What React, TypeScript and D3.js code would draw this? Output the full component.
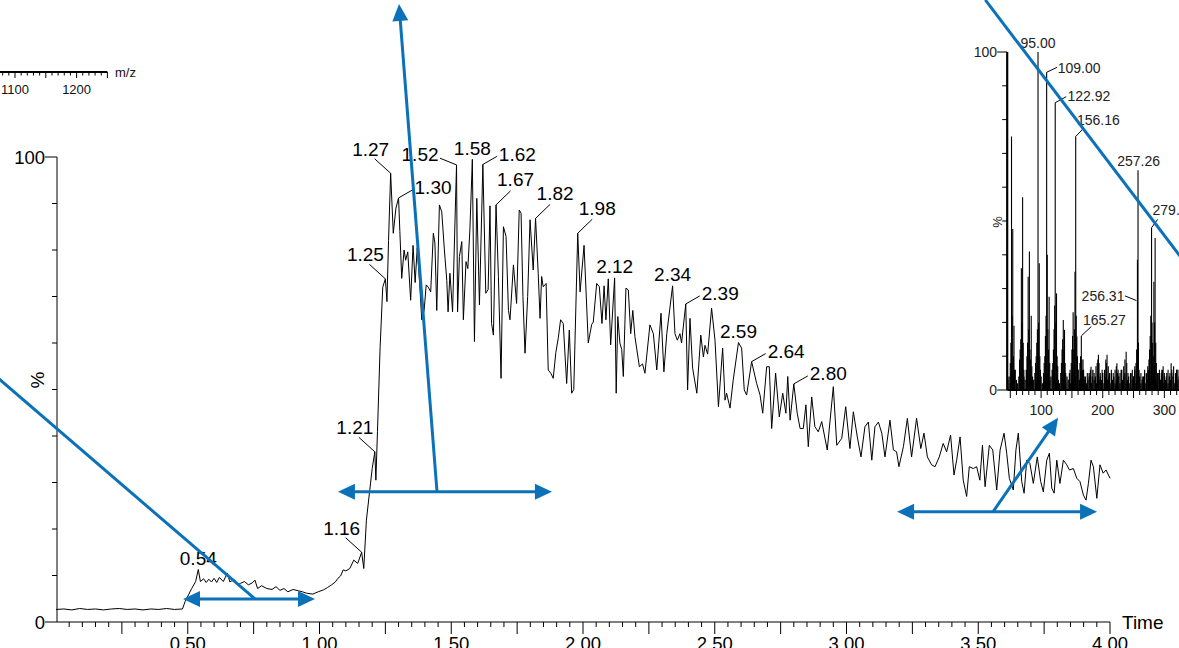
import React from "react";
import * as d3 from "d3";

const W = 1179;
const H = 648;

// ---- chromatogram (time in min, intensity %) ----
const tracePoints: [number, number][] = [
  [0.0, 2.7], [0.03, 2.8], [0.06, 2.6], [0.09, 2.9], [0.12, 2.7], [0.15, 2.8], [0.18, 2.6], [0.21, 2.8],
  [0.24, 2.9], [0.27, 2.7], [0.3, 2.8], [0.33, 2.6], [0.36, 2.8], [0.39, 2.7], [0.42, 2.9], [0.45, 2.7],
  [0.48, 2.8], [0.49, 4.4], [0.515, 7.2], [0.53, 8.7], [0.54, 11.3], [0.548, 8.7], [0.56, 9.3], [0.57, 8.5],
  [0.58, 9.2], [0.59, 8.6], [0.6, 9.4], [0.61, 8.5], [0.62, 9.6], [0.635, 8.7], [0.65, 10.5], [0.66, 8.6],
  [0.675, 9.2], [0.69, 8.0], [0.7, 8.3], [0.715, 8.7], [0.73, 8.0], [0.745, 8.4], [0.755, 9.0], [0.765, 7.2],
  [0.78, 7.8], [0.8, 7.2], [0.82, 7.0], [0.835, 7.6], [0.85, 6.8], [0.865, 7.2], [0.88, 6.5], [0.9, 7.0],
  [0.92, 6.7], [0.935, 6.5], [0.95, 6.2], [0.975, 6.0], [0.995, 6.5], [1.015, 6.9], [1.03, 7.4], [1.046, 8.0],
  [1.06, 8.6], [1.07, 9.4], [1.08, 9.9], [1.09, 11.2], [1.1, 11.0], [1.115, 11.5], [1.13, 13.3], [1.145, 12.6],
  [1.16, 15.0], [1.168, 11.5], [1.178, 21.9], [1.19, 28], [1.2, 33], [1.21, 36.6], [1.214, 30.5], [1.22, 41],
  [1.23, 59], [1.24, 72], [1.25, 73.8], [1.256, 68.9], [1.262, 82], [1.27, 96.5], [1.28, 83.6], [1.29, 89],
  [1.3, 91.2], [1.305, 84], [1.312, 73.9], [1.321, 80], [1.327, 77.8], [1.335, 79.6], [1.346, 69.2], [1.355, 81],
  [1.363, 73], [1.371, 80.5], [1.38, 72.8], [1.388, 65], [1.397, 67], [1.405, 72.5], [1.413, 72], [1.422, 71],
  [1.432, 83.6], [1.438, 81.5], [1.445, 67], [1.455, 89.7], [1.464, 88.2], [1.474, 80], [1.483, 73.5], [1.488, 66.7],
  [1.495, 75], [1.505, 66.7], [1.52, 98.3], [1.524, 66.7], [1.531, 78.6], [1.54, 81.8], [1.546, 65], [1.556, 77.5],
  [1.563, 76], [1.571, 84.7], [1.58, 99.5], [1.588, 60.3], [1.597, 91.1], [1.607, 68.2], [1.62, 98.4], [1.631, 70.7],
  [1.64, 71.5], [1.647, 89.5], [1.653, 64.2], [1.66, 61.7], [1.67, 89.7], [1.679, 74.3], [1.689, 52.4], [1.698, 85],
  [1.708, 82.9], [1.717, 67], [1.723, 65], [1.736, 76.8], [1.748, 68.5], [1.758, 88.6], [1.765, 87.9], [1.772, 70],
  [1.78, 57.8], [1.79, 70], [1.799, 86.5], [1.811, 75.7], [1.82, 86.8], [1.83, 75], [1.837, 65.3], [1.843, 74.3],
  [1.849, 72.1], [1.86, 72.8], [1.868, 54.2], [1.878, 53.5], [1.887, 52.4], [1.897, 58], [1.906, 61], [1.915, 65],
  [1.925, 64.2], [1.938, 51.3], [1.948, 62.8], [1.957, 49.2], [1.965, 50], [1.98, 83.6], [1.989, 71], [2.004, 81],
  [2.02, 60], [2.033, 64], [2.039, 64.5], [2.052, 72.8], [2.062, 72.1], [2.072, 64.2], [2.08, 72.3], [2.087, 65],
  [2.096, 73.8], [2.105, 59.6], [2.12, 74], [2.126, 49.2], [2.132, 65.7], [2.14, 60], [2.147, 58.6], [2.153, 52.8],
  [2.163, 71.8], [2.172, 71.4], [2.181, 62], [2.189, 67], [2.197, 61.4], [2.214, 54.9], [2.226, 55.5], [2.235, 53.5],
  [2.254, 63.9], [2.267, 62], [2.28, 54.2], [2.296, 66.4], [2.307, 53.8], [2.318, 62], [2.34, 72.3], [2.349, 62],
  [2.358, 60.6], [2.368, 62], [2.374, 60], [2.39, 68.4], [2.397, 49.9], [2.406, 65.3], [2.416, 54.6], [2.432, 49.2],
  [2.447, 61.7], [2.457, 57], [2.463, 59.5], [2.473, 57.6], [2.488, 67.5], [2.501, 60.6], [2.514, 46.3], [2.53, 58.9],
  [2.539, 47.7], [2.545, 49.2], [2.558, 46], [2.57, 52], [2.59, 60.1], [2.602, 58.9], [2.612, 49.9], [2.621, 48.8],
  [2.64, 56], [2.659, 51.3], [2.672, 48.8], [2.682, 44.9], [2.697, 54.9], [2.707, 54.9], [2.716, 41.6], [2.731, 53.5],
  [2.745, 44.1], [2.758, 49.2], [2.77, 44.9], [2.777, 52.8], [2.786, 43.4], [2.8, 51.2], [2.813, 44.9], [2.824, 41.6],
  [2.836, 41.6], [2.846, 46.7], [2.855, 37.7], [2.868, 48.4], [2.88, 42], [2.893, 40.9], [2.906, 43.1], [2.927, 37],
  [2.95, 50.6], [2.963, 38], [2.982, 39.5], [2.997, 46.3], [3.013, 37.3], [3.026, 45.2], [3.041, 39.8], [3.055, 35.5],
  [3.07, 42], [3.083, 43], [3.096, 34.8], [3.108, 42], [3.121, 43], [3.134, 40.6], [3.146, 35.5], [3.165, 43.4],
  [3.178, 37], [3.19, 36.6], [3.199, 33.4], [3.216, 37.7], [3.231, 43.8], [3.247, 35.5], [3.266, 43.8], [3.282, 37.3],
  [3.294, 40.6], [3.307, 35.5], [3.323, 33.8], [3.336, 33.4], [3.352, 35.5], [3.367, 38.4], [3.38, 36.6], [3.395, 40.2],
  [3.408, 31.6], [3.418, 34.8], [3.431, 39.8], [3.443, 30.5], [3.456, 27], [3.466, 33.4], [3.481, 33], [3.494, 33.4],
  [3.506, 30.5], [3.516, 38], [3.526, 29.1], [3.542, 38], [3.555, 37], [3.57, 28.4], [3.583, 37], [3.598, 40.6],
  [3.608, 36.3], [3.618, 30.9], [3.633, 28.4], [3.643, 37], [3.652, 40.6], [3.665, 30.2], [3.674, 27.7], [3.684, 34.8],
  [3.696, 34.1], [3.709, 29.8], [3.724, 35.5], [3.737, 30.2], [3.747, 28], [3.76, 34.8], [3.77, 36.3], [3.779, 28.8],
  [3.788, 27.7], [3.798, 34.8], [3.81, 29.8], [3.823, 34.8], [3.836, 33.8], [3.846, 32.7], [3.861, 33], [3.874, 30.9],
  [3.886, 30.2], [3.899, 27.3], [3.909, 26.2], [3.918, 29.8], [3.928, 34.8], [3.937, 33.4], [3.95, 26.6], [3.962, 33.8],
  [3.974, 32], [3.985, 32.7], [4.0, 30.9],
];

const peakTimes = [0.54, 1.16, 1.21, 1.25, 1.27, 1.3, 1.52, 1.58, 1.62, 1.67, 1.82, 1.98, 2.12, 2.34, 2.39, 2.59, 2.64, 2.8];
const peakLabels = ["0.54", "1.16", "1.21", "1.25", "1.27", "1.30", "1.52", "1.58", "1.62", "1.67", "1.82", "1.98", "2.12", "2.34", "2.39", "2.59", "2.64", "2.80"];

const xTickValues = [0.5, 1.0, 1.5, 2.0, 2.5, 3.0, 3.5, 4.0];
const xTickLabels = ["0.50", "1.00", "1.50", "2.00", "2.50", "3.00", "3.50", "4.00"];
const yTickValues = [0, 100];
const yTickLabels = ["0", "100"];

// ---- inset mass spectrum (m/z, %) ----
const insetPeaks: [number, number][] = [
  [50, 8], [51, 14], [52, 75], [53, 22], [54, 47.6], [55, 10], [56, 19], [57, 6],
  [65, 9], [66, 12], [67, 15], [68, 36], [69, 20], [70, 57], [71, 14], [72, 6],
  [77, 10], [78, 14], [79, 33.5], [80, 18], [81, 41], [82, 12], [83, 9], [84, 22], [85, 7],
  [91, 8], [92, 10], [93, 14], [94, 18], [95, 100], [96, 20], [97, 37.5], [98, 10], [99, 6],
  [105, 8], [106, 10], [107, 16], [108, 22], [109, 94], [110, 40], [111, 18], [112, 12], [113, 27.6], [114, 8],
  [119, 8], [120, 12], [121, 18], [122, 25], [122.92, 85], [124, 20], [125, 28.6], [126, 10], [127, 7],
  [133, 8], [134, 12], [135, 15], [136, 20.7], [137, 12], [138, 17.8], [139, 8], [140, 5],
  [147, 6], [149, 8], [150, 12], [151, 16], [152, 23], [153, 12], [154, 18], [155, 35], [156.16, 75], [157, 22], [158, 15.8], [159, 10], [160, 6],
  [163, 8], [164, 10], [165.27, 16], [166, 9], [167, 6], [168, 9], [169, 6], [170, 4],
  [175, 5], [178, 4], [180, 6], [181, 6.9], [183, 4], [186, 5], [189, 7], [191, 8], [192, 9], [193, 10.4], [194, 8], [196, 5], [199, 6],
  [203, 6], [205, 9], [206, 8], [207, 10.4], [209, 7], [211, 5], [214, 6], [217, 5], [220, 6], [222, 7], [223, 7.9], [225, 6], [228, 5],
  [231, 6], [234, 7], [236, 9], [238, 11.3], [239, 8], [241, 5], [245, 5], [248, 6], [250, 4], [252, 7], [254, 8], [255, 12],
  [256.31, 38.5], [257.26, 65], [258, 14], [259, 6],
  [262, 5], [265, 4], [268, 6], [271, 5], [273, 7], [275, 9], [276, 12], [277, 16], [278, 22], [279.22, 48], [280, 20],
  [281, 14], [282, 10], [283, 32], [284, 20], [285, 45], [286, 14], [287, 8], [289, 5],
  [292, 6], [295, 5], [297, 5.9], [298, 7], [300, 5], [303, 4], [306, 6], [309, 5], [311, 7.9], [312, 6], [315, 7],
  [318, 5], [320, 6], [322, 6], [325, 4], [328, 5],
];
// baseline clutter, m/z 46..330 every 2
const insetNoise = [
  3, 4, 2, 5, 3, 4, 6, 3, 2, 4, 3, 5, 2, 4, 3, 6, 4, 2, 5, 3, 4, 3, 5, 2, 4, 6, 3, 4, 2, 5,
  3, 4, 5, 2, 3, 4, 6, 3, 5, 2, 4, 3, 2, 5, 4, 3, 6, 2, 4, 3, 5, 2, 4, 3, 5, 4, 2, 6, 3, 4,
  2, 5, 3, 4, 2, 3, 5, 4, 2, 6, 3, 4, 2, 5, 3, 4, 3, 5, 2, 4, 6, 3, 4, 2, 5, 3, 4, 2, 3, 5,
  4, 2, 6, 3, 4, 5, 2, 3, 4, 2, 5, 3, 4, 6, 2, 3, 5, 4, 2, 3, 4, 5, 2, 3, 6, 4, 2, 5, 3, 4,
  3, 2, 5, 4, 3, 6, 2, 4, 3, 5, 2, 4, 3, 5, 4, 2, 3, 6, 3, 4, 2, 5, 4,
];
const insetLabelMz = [95, 109, 122.92, 156.16, 257.26, 279.22, 256.31, 165.27];
const insetLabels = ["95.00", "109.00", "122.92", "156.16", "257.26", "279.22", "256.31", "165.27"];
const insetXTickValues = [100, 200, 300];
const insetXTickLabels = ["100", "200", "300"];

// partial m/z axis at top left
const mzFragTickValues = [1100, 1200];
const mzFragTickLabels = ["1100", "1200"];

// ---- annotation geometry in data units ----
const doubleArrows = [
  { t0: 0.482, t1: 0.983, v: 4.95 },
  { t0: 1.07, t1: 1.882, v: 28 },
  { t0: 3.192, t1: 3.951, v: 23.7 },
];
const singleArrows = [
  { from: [1.446, 28], to: [1.3017, 132.9] },
  { from: [3.556, 23.7], to: [3.803, 43.9] },
];
const plainLine = { from: [-0.25, 53.9], to: [0.755, 4.95] };
const insetLine = { from: [9.5, 115.4], to: [340, 36.1] };

// label placement (layout only)
const mainPlacement: Record<string, string> = {
  "0.54": "above", "1.16": "upLeft", "1.21": "upLeft", "1.25": "upLeft", "1.27": "upLeft",
  "1.30": "right", "1.52": "left", "1.58": "above", "1.62": "right", "1.67": "upRight",
  "1.82": "upRight", "1.98": "upRight", "2.12": "above", "2.34": "above", "2.39": "right",
  "2.59": "above", "2.64": "right", "2.80": "right",
};
const placementStyles: Record<string, { anchor: string; dx: number; dy: number; lead?: [number, number] }> = {
  above: { anchor: "middle", dx: 0, dy: -4.5 },
  upLeft: { anchor: "middle", dx: -20, dy: -17.5, lead: [-16, -14.5] },
  upRight: { anchor: "middle", dx: 19.5, dy: -18.5, lead: [14.5, -14] },
  right: { anchor: "start", dx: 16, dy: -3.5, lead: [14, -8] },
  left: { anchor: "end", dx: -18, dy: -4, lead: [-16.5, -6.7] },
};
const insetPlacement: { anchor: string; dx: number; dy: number; lead?: [number, number, number, number] }[] = [
  { anchor: "middle", dx: 0, dy: -4 },
  { anchor: "start", dx: 11, dy: 0.5, lead: [0, 0, 10.5, -5] },
  { anchor: "start", dx: 12.3, dy: -1.7, lead: [0, 0, 11, -6] },
  { anchor: "start", dx: 1.3, dy: -11.7, lead: [0, 0, 8, -8.4] },
  { anchor: "middle", dx: 0.6, dy: -4 },
  { anchor: "start", dx: 1, dy: -13, lead: [0, 0, 6, -8.4] },
  { anchor: "end", dx: -13, dy: 41.5, lead: [-1, 40.7, -12.5, 36] },
  { anchor: "start", dx: 1.7, dy: -11.3, lead: [0, 0, 10, -9.4] },
];

const BLUE = "#0b72b9";
const FONT = "'Liberation Sans', Arial, Helvetica, sans-serif";

function arrowHead(x1: number, y1: number, x2: number, y2: number, len = 17, half = 8) {
  const dx = x2 - x1, dy = y2 - y1;
  const L = Math.hypot(dx, dy);
  const ux = dx / L, uy = dy / L;
  const bx = x2 - ux * len, by = y2 - uy * len;
  const px = -uy * half, py = ux * half;
  return `M${x2},${y2}L${bx + px},${by + py}L${bx - px},${by - py}Z`;
}

export default function App() {
  const x = d3.scaleLinear().domain([0, 4]).range([56, 1110]);
  const y = d3.scaleLinear().domain([0, 100]).range([622, 157]);
  const xi = d3.scaleLinear().domain([45, 330]).range([1007.2, 1182.85]);
  const yi = d3.scaleLinear().domain([0, 100]).range([390, 52]);
  const xm = d3.scaleLinear().domain([1100, 1200]).range([15, 76.6]);

  const line = d3.line<[number, number]>().x((d) => x(d[0])).y((d) => y(d[1]));

  const minorX = d3.range(1, 81).map((i) => i * 0.05);
  const minorY = d3.range(0, 11).map((i) => i * 10);
  const insetYT = d3.range(0, 11).map((i) => i * 10);
  const insetXT = d3.range(50, 340, 10);
  const fragT = d3.range(1080, 1251, 10);

  const noiseMz = insetNoise.map((_, i) => 46 + i * 2);

  const peakPt = (t: number) => {
    const p = d3.least(tracePoints, (d) => Math.abs(d[0] - t))!;
    return p;
  };
  const insetPt = (mz: number) => d3.least(insetPeaks, (d) => Math.abs(d[0] - mz))!;

  return (
    <svg
      width={W}
      height={H}
      viewBox={`0 0 ${W} ${H}`}
      style={{ position: "absolute", left: 0, top: 0, background: "#fff" }}
      fontFamily={FONT}
    >
      <rect x={0} y={0} width={W} height={H} fill="#fff" />

      {/* partial m/z axis fragment at top-left */}
      <g>
        <line x1={xm(1070)} x2={xm(1250)} y1={72} y2={72} stroke="#000" strokeWidth={2.2} />
        {fragT.map((v) => (
          <line key={v} x1={xm(v)} x2={xm(v)} y1={72} y2={72 + (v % 50 === 0 ? 6 : 3.5)} stroke="#000" strokeWidth={1} />
        ))}
        {mzFragTickValues.map((v, i) => (
          <text key={v} x={xm(v)} y={94} fontSize={13} textAnchor="middle" fill="#111">
            {mzFragTickLabels[i]}
          </text>
        ))}
        <text x={115} y={77} fontSize={13} fill="#111">m/z</text>
      </g>

      {/* main axes */}
      <g stroke="#000" strokeWidth={1}>
        <line x1={x(0) + 1} x2={x(0) + 1} y1={y(100)} y2={y(0)} />
        <line x1={x(0) + 1} x2={x(4)} y1={y(0)} y2={y(0)} />
        {minorX.map((t) => {
          const major = Math.abs(t * 4 - Math.round(t * 4)) < 1e-6;
          return <line key={t} x1={x(t)} x2={x(t)} y1={y(0)} y2={y(0) + (major ? 12 : 5)} />;
        })}
        {minorY.map((v) => (
          <line key={v} x1={x(0) + 1 - (v === 0 || v === 100 ? 12 : 5)} x2={x(0) + 1} y1={y(v)} y2={y(v)} />
        ))}
      </g>
      {xTickValues.map((t, i) => (
        <text key={t} x={x(t)} y={650} fontSize={18.5} textAnchor="middle" fill="#000">
          {xTickLabels[i]}
        </text>
      ))}
      {yTickValues.map((v, i) => (
        <text key={v} x={45} y={y(v) + 6.5} fontSize={18.5} textAnchor="end" fill="#000">
          {yTickLabels[i]}
        </text>
      ))}
      <text x={1122} y={629} fontSize={19} fill="#000">Time</text>
      <text transform="translate(44,380) rotate(-90)" fontSize={19} textAnchor="middle" fill="#000">%</text>

      {/* chromatogram trace */}
      <path d={line(tracePoints) || ""} fill="none" stroke="#000" strokeWidth={1} strokeLinejoin="round" />

      {/* peak labels */}
      {peakTimes.map((t, i) => {
        const lbl = peakLabels[i];
        const st = placementStyles[mainPlacement[lbl]];
        const p = peakPt(t);
        const px = x(p[0]);
        const py = y(p[1]);
        return (
          <g key={lbl}>
            {st.lead && (
              <line x1={px} y1={py} x2={px + st.lead[0]} y2={py + st.lead[1]} stroke="#000" strokeWidth={1} />
            )}
            <text x={px + st.dx} y={py + st.dy} fontSize={19} textAnchor={st.anchor as any} fill="#000">
              {lbl}
            </text>
          </g>
        );
      })}

      {/* inset spectrum */}
      <g>
        {noiseMz.map((mz, i) => (
          <line key={"n" + mz} x1={xi(mz)} x2={xi(mz)} y1={yi(0)} y2={yi(insetNoise[i])} stroke="#000" strokeWidth={1.3} />
        ))}
        {insetPeaks.map((d) => (
          <line key={"p" + d[0]} x1={xi(d[0])} x2={xi(d[0])} y1={yi(0)} y2={yi(d[1])} stroke="#000" strokeWidth={1.1} />
        ))}
        <line x1={xi(45)} x2={xi(45)} y1={yi(0)} y2={yi(100)} stroke="#000" strokeWidth={2.2} />
        <line x1={xi(45)} x2={W + 5} y1={yi(0)} y2={yi(0)} stroke="#000" strokeWidth={2.2} />
        {insetYT.map((v) => (
          <line key={"iy" + v} x1={xi(45) - (v === 0 || v === 100 ? 10 : 5)} x2={xi(45)} y1={yi(v)} y2={yi(v)} stroke="#000" strokeWidth={1} />
        ))}
        {insetXT.map((v) => (
          <line key={"ix" + v} x1={xi(v)} x2={xi(v)} y1={yi(0)} y2={yi(0) + (v % 50 === 0 ? 8 : 5)} stroke="#000" strokeWidth={1} />
        ))}
        {insetXTickValues.map((v, i) => (
          <text key={"ixl" + v} x={xi(v)} y={415} fontSize={14} textAnchor="middle" fill="#222">
            {insetXTickLabels[i]}
          </text>
        ))}
        <text x={997} y={57} fontSize={14} textAnchor="end" fill="#222">100</text>
        <text x={997} y={395} fontSize={14} textAnchor="end" fill="#222">0</text>
        <text transform="translate(1002,222) rotate(-90)" fontSize={13} textAnchor="middle" fill="#222">%</text>
        {insetLabelMz.map((mz, i) => {
          const p = insetPt(mz);
          const px = xi(p[0]);
          const py = yi(p[1]);
          const st = insetPlacement[i];
          return (
            <g key={"il" + i}>
              {st.lead && (
                <line x1={px + st.lead[0]} y1={py + st.lead[1]} x2={px + st.lead[2]} y2={py + st.lead[3]} stroke="#000" strokeWidth={1} />
              )}
              <text x={px + st.dx} y={py + st.dy} fontSize={14} textAnchor={st.anchor as any} fill="#222">
                {insetLabels[i]}
              </text>
            </g>
          );
        })}
      </g>

      {/* blue annotations */}
      <g stroke={BLUE} strokeWidth={3} fill="none">
        <line x1={x(plainLine.from[0])} y1={y(plainLine.from[1])} x2={x(plainLine.to[0])} y2={y(plainLine.to[1])} />
        <line x1={xi(insetLine.from[0])} y1={yi(insetLine.from[1])} x2={xi(insetLine.to[0])} y2={yi(insetLine.to[1])} />
        {doubleArrows.map((a, i) => (
          <line key={"da" + i} x1={x(a.t0) + 12} x2={x(a.t1) - 12} y1={y(a.v)} y2={y(a.v)} />
        ))}
        {singleArrows.map((a, i) => {
          const x1 = x(a.from[0]), y1 = y(a.from[1]), x2 = x(a.to[0]), y2 = y(a.to[1]);
          const L = Math.hypot(x2 - x1, y2 - y1);
          return <line key={"sa" + i} x1={x1} y1={y1} x2={x2 - ((x2 - x1) / L) * 12} y2={y2 - ((y2 - y1) / L) * 12} />;
        })}
      </g>
      <g fill={BLUE} stroke="none">
        {doubleArrows.map((a, i) => (
          <g key={"dah" + i}>
            <path d={arrowHead(x(a.t1) - 30, y(a.v), x(a.t0), y(a.v))} />
            <path d={arrowHead(x(a.t0) + 30, y(a.v), x(a.t1), y(a.v))} />
          </g>
        ))}
        {singleArrows.map((a, i) => (
          <path key={"sah" + i} d={arrowHead(x(a.from[0]), y(a.from[1]), x(a.to[0]), y(a.to[1]))} />
        ))}
      </g>
    </svg>
  );
}
